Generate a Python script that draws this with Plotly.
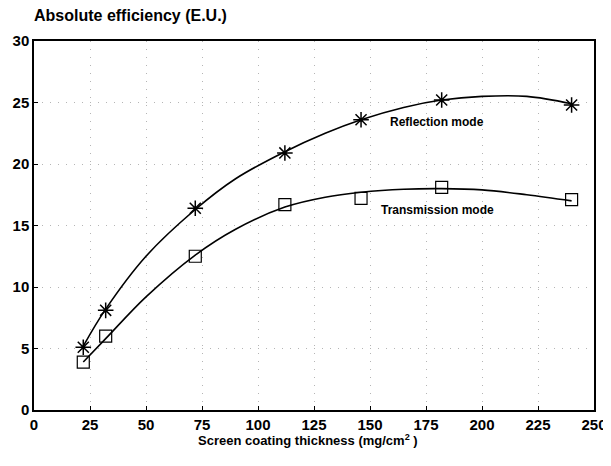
import plotly.graph_objects as go

# measured points
thickness = [22, 32, 72, 112, 146, 182, 240]
reflection = [5.1, 8.1, 16.4, 20.9, 23.6, 25.2, 24.8]
transmission = [3.9, 6.0, 12.5, 16.7, 17.2, 18.1, 17.1]

# fitted curves
fit_x = [22, 32, 50, 72, 90, 112, 130, 146, 165, 182, 200, 220, 240]
fit_reflection = [5.2, 8.2, 12.5, 16.3, 18.8, 21.0, 22.5, 23.6, 24.6, 25.2, 25.5, 25.5, 24.9]
fit_transmission = [3.9, 5.8, 9.2, 12.6, 14.7, 16.5, 17.3, 17.7, 17.95, 18.0, 17.9, 17.5, 17.0]

font_family = "Liberation Sans, Arial, sans-serif"

fig = go.Figure()
fig.add_trace(go.Scatter(x=fit_x, y=fit_reflection, mode="lines", line_shape="spline",
                         line=dict(color="black", width=1.6), hoverinfo="skip"))
fig.add_trace(go.Scatter(x=fit_x, y=fit_transmission, mode="lines", line_shape="spline",
                         line=dict(color="black", width=1.6), hoverinfo="skip"))
fig.add_trace(go.Scatter(x=thickness, y=reflection, mode="markers", name="Reflection mode",
                         marker=dict(symbol="asterisk-open", size=13, color="black",
                                     line=dict(color="black", width=1.5))))
fig.add_trace(go.Scatter(x=thickness, y=transmission, mode="markers", name="Transmission mode",
                         marker=dict(symbol="square-open", size=12, color="black",
                                     line=dict(color="black", width=1.2))))

fig.add_annotation(x=180, y=23.4, text="<b>Reflection mode</b>", showarrow=False,
                   font=dict(size=12, color="black", family=font_family))
fig.add_annotation(x=180, y=16.3, text="<b>Transmission mode</b>", showarrow=False,
                   font=dict(size=12, color="black", family=font_family))

# x axis title placed by hand so it sits close to the tick labels
fig.add_annotation(xref="paper", yref="paper", x=0.49, y=-0.082, yanchor="middle",
                   text="<b>Screen coating thickness (mg/cm<sup>2</sup> )</b>", showarrow=False,
                   font=dict(size=13, color="black", family=font_family))

axis_style = dict(showline=True, linecolor="black", linewidth=1.5, mirror=True,
                  ticks="inside", ticklen=4, tickcolor="black", automargin=False,
                  showgrid=True, gridcolor="#b5b5b5", griddash="1px,7px", gridwidth=1,
                  zeroline=False,
                  tickfont=dict(size=15, color="black", family=font_family, weight="bold"))

fig.update_xaxes(range=[0, 250], tickvals=list(range(0, 251, 25)), **axis_style)
fig.update_yaxes(range=[0, 30], tickvals=list(range(0, 31, 5)), **axis_style)

# page body has an 8px margin, so the figure is a bit smaller than the window
fig.update_layout(
    width=600, height=450,
    showlegend=False,
    plot_bgcolor="white", paper_bgcolor="white",
    margin=dict(l=26, r=14, t=33, b=48),
    title=dict(text="<b>Absolute efficiency (E.U.)</b>", xref="paper", x=0, xanchor="left",
               yref="container", y=0.984, yanchor="middle",
               font=dict(size=16, color="black", family=font_family)),
)

fig.write_html("out.html")
